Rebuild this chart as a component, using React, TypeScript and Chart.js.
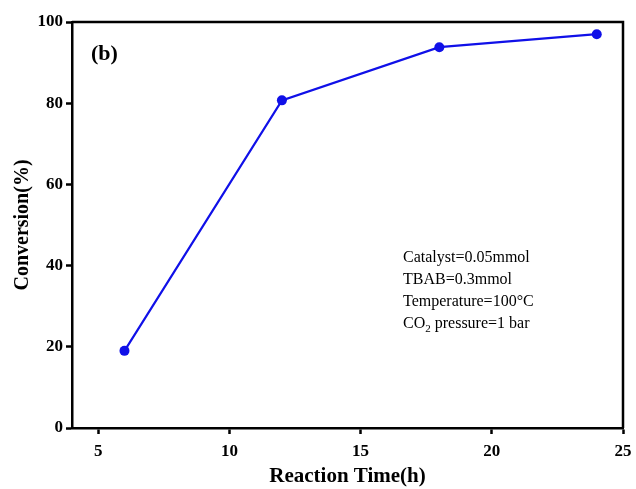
import React, { useEffect, useRef } from "react";
import { Chart, registerables } from "chart.js";

Chart.register(...registerables);

const reactionTime = [6, 12, 18, 24];
const conversion = [19, 80.7, 93.8, 97];
const xTicks = [5, 10, 15, 20, 25];
const yTicks = [0, 20, 40, 60, 80, 100];
const panelLabel = "(b)";
const conditions = ["Catalyst=0.05mmol", "TBAB=0.3mmol", "Temperature=100°C"];

const SERIF = "'Liberation Serif', 'Times New Roman', serif";

const overlay = {
  id: "overlay",
  afterDraw(chart: any) {
    const { ctx, chartArea } = chart;
    const { left, right, top, bottom } = chartArea;
    ctx.save();
    ctx.strokeStyle = "#000";
    ctx.lineWidth = 2.5;
    ctx.beginPath();
    ctx.moveTo(left, top);
    ctx.lineTo(right, top);
    ctx.lineTo(right, bottom);
    ctx.stroke();

    ctx.fillStyle = "#000";
    ctx.textBaseline = "middle";
    ctx.textAlign = "left";
    ctx.font = `bold 22px ${SERIF}`;
    ctx.fillText(panelLabel, left + 19, top + 32);

    ctx.font = `16px ${SERIF}`;
    const x0 = left + 331;
    const y0 = top + 236;
    const lh = 22;
    conditions.forEach((t, i) => ctx.fillText(t, x0, y0 + i * lh));
    const y3 = y0 + 3 * lh;
    ctx.fillText("CO", x0, y3);
    const w = ctx.measureText("CO").width;
    ctx.font = `11px ${SERIF}`;
    ctx.fillText("2", x0 + w, y3 + 5);
    const w2 = ctx.measureText("2").width;
    ctx.font = `16px ${SERIF}`;
    ctx.fillText(" pressure=1 bar", x0 + w + w2, y3);
    ctx.restore();
  },
};

export default function App() {
  const ref = useRef<HTMLCanvasElement>(null);
  useEffect(() => {
    document.body.style.margin = "0";
    const chart = new Chart(ref.current!, {
      type: "line",
      data: {
        datasets: [
          {
            data: reactionTime.map((x, i) => ({ x, y: conversion[i] })),
            borderColor: "#1010e8",
            backgroundColor: "#1010e8",
            borderWidth: 2.2,
            pointRadius: 5,
            pointBackgroundColor: "#1010e8",
            pointBorderWidth: 0,
            tension: 0,
          },
        ],
      },
      options: {
        responsive: false,
        animation: false,
        layout: { padding: { left: 0, right: 13, top: 22, bottom: 0 } },
        plugins: { legend: { display: false }, tooltip: { enabled: false } },
        scales: {
          x: {
            type: "linear",
            min: 4,
            max: 25,
            afterBuildTicks: (s: any) => {
              s.ticks = xTicks.map((v) => ({ value: v }));
            },
            afterFit: (s: any) => {
              s.height = 61;
              s.paddingLeft = 0;
              s.paddingRight = 0;
            },
            border: { display: true, color: "#000", width: 2.5 },
            grid: {
              display: true,
              drawOnChartArea: false,
              drawTicks: true,
              tickLength: 6,
              tickWidth: 2.5,
              tickColor: "#000",
            },
            ticks: {
              color: "#000",
              padding: 7,
              maxRotation: 0,
              font: { family: SERIF, size: 17, weight: "bold" },
            },
            title: {
              display: true,
              text: "Reaction Time(h)",
              color: "#000",
              padding: { top: 2, bottom: 0 },
              font: { family: SERIF, size: 21, weight: "bold" },
            },
          },
          y: {
            type: "linear",
            min: 0,
            max: 100,
            afterBuildTicks: (s: any) => {
              s.ticks = yTicks.map((v) => ({ value: v }));
            },
            afterFit: (s: any) => {
              s.width = 72;
              s.paddingTop = 0;
              s.paddingBottom = 0;
            },
            border: { display: true, color: "#000", width: 2.5 },
            grid: {
              display: true,
              drawOnChartArea: false,
              drawTicks: true,
              tickLength: 6,
              tickWidth: 2.5,
              tickColor: "#000",
            },
            ticks: {
              color: "#000",
              padding: 3,
              font: { family: SERIF, size: 17, weight: "bold" },
            },
            title: {
              display: true,
              text: "Conversion(%)",
              color: "#000",
              padding: { top: 11, bottom: 0 },
              font: { family: SERIF, size: 20, weight: "bold" },
            },
          },
        },
      },
      plugins: [overlay],
    } as any);
    return () => chart.destroy();
  }, []);
  return (
    <div style={{ position: "absolute", left: 0, top: 0, width: 636, height: 489, background: "#fff" }}>
      <canvas ref={ref} width={636} height={489} />
    </div>
  );
}
